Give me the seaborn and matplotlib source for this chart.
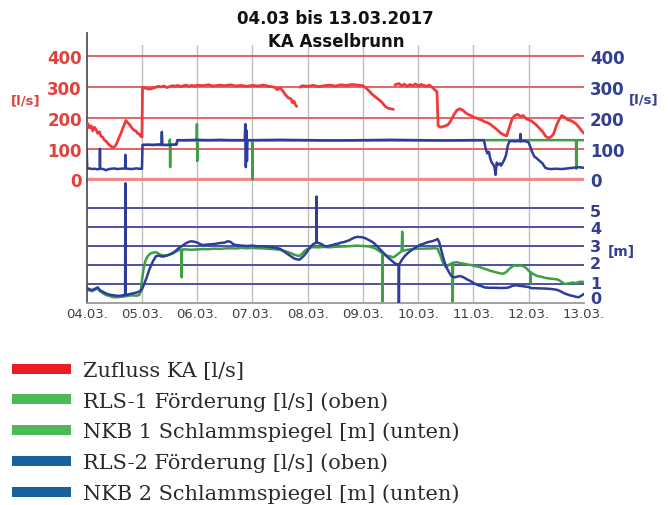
import matplotlib
matplotlib.use("Agg")
import matplotlib.pyplot as plt
import matplotlib.transforms as mtransforms
import numpy as np
import pandas as pd
import seaborn as sns
from matplotlib.lines import Line2D

nan = float("nan")

# ---------------- data ----------------
title_lines = ["04.03 bis 13.03.2017", "KA Asselbrunn"]
day_labels = ["04.03.", "05.03.", "06.03.", "07.03.", "08.03.",
              "09.03.", "10.03.", "11.03.", "12.03.", "13.03."]
flow_ticks = [0, 100, 200, 300, 400]
level_ticks = [0, 1, 2, 3, 4, 5]

# Zufluss KA [l/s] (top panel, red); time in days since 04.03. 00:00
zufluss_t = [0.00, 0.02, 0.05, 0.08, 0.11, 0.14, 0.17, 0.20, 0.23, 0.26,
             0.29, 0.32, 0.35, 0.38, 0.41, 0.44, 0.47, 0.50, 0.53, 0.56,
             0.59, 0.62, 0.65, 0.68, 0.71, 0.74, 0.77, 0.80, 0.83, 0.86,
             0.89, 0.92, 0.95, 0.98, 1.00, 1.01, 1.05, 1.10, 1.15, 1.20,
             1.25, 1.30, 1.35, 1.40, 1.45, 1.50, 1.55, 1.60, 1.65, 1.70,
             1.75, 1.80, 1.85, 1.90, 1.95, 2.00, 2.10, 2.20, 2.30, 2.40,
             2.50, 2.60, 2.70, 2.80, 2.90, 3.00, 3.10, 3.20, 3.30, 3.40,
             3.45, 3.50, 3.55, 3.60, 3.65, 3.70, 3.72, 3.75, 3.78, 3.80,
             3.83, 3.86, 3.90, 4.00, 4.10, 4.20, 4.30, 4.40, 4.50, 4.60,
             4.70, 4.80, 4.90, 5.00, 5.05, 5.10, 5.15, 5.20, 5.25, 5.30,
             5.35, 5.40, 5.45, 5.50, 5.55, 5.565, 5.58, 5.65, 5.70, 5.75,
             5.80, 5.85, 5.90, 5.95, 6.00, 6.05, 6.10, 6.15, 6.20, 6.25,
             6.30, 6.34, 6.36, 6.40, 6.45, 6.50, 6.55, 6.60, 6.65, 6.70,
             6.75, 6.80, 6.85, 6.90, 6.95, 7.00, 7.05, 7.10, 7.15, 7.20,
             7.25, 7.30, 7.35, 7.40, 7.45, 7.50, 7.55, 7.60, 7.65, 7.70,
             7.75, 7.80, 7.85, 7.90, 7.95, 8.00, 8.05, 8.10, 8.15, 8.20,
             8.25, 8.30, 8.35, 8.40, 8.45, 8.50, 8.55, 8.60, 8.65, 8.70,
             8.75, 8.80, 8.85, 8.90, 8.95, 9.00]
zufluss_v = [165, 182, 168, 175, 158, 170, 162, 150, 155, 140,
             138, 128, 125, 118, 112, 108, 104, 106, 112, 125,
             138, 150, 165, 178, 192, 185, 180, 172, 165, 160,
             158, 150, 148, 140, 138, 300, 298, 295, 294, 297,
             300, 303, 301, 304, 299, 302, 305, 303, 306, 302,
             305, 307, 303, 306, 304, 307, 305, 308, 304, 307,
             305, 308, 304, 306, 303, 306, 304, 307, 303, 300,
             292, 298, 288, 275, 265, 262, 250, 255, 242, 238,
             nan, 300, 305, 303, 306, 302, 305, 307, 304, 308,
             306, 309, 307, 305, 298, 290, 280, 272, 265, 258,
             250, 238, 232, 230, 228, nan, 308, 312, 305, 310,
             303, 309, 305, 311, 304, 309, 306, 303, 307, 300,
             292, 285, 175, 170, 172, 175, 180, 195, 212, 225,
             230, 226, 218, 212, 208, 203, 200, 196, 193, 188,
             185, 180, 173, 166, 158, 150, 145, 142, 170, 198,
             208, 212, 205, 208, 198, 194, 190, 183, 175, 165,
             156, 142, 135, 138, 148, 175, 195, 208, 202, 195,
             192, 188, 182, 172, 160, 150]

# RLS-1 Foerderung [l/s] (top panel, green)
rls1_t = [1.01, 1.20, 1.40, 1.50, 1.505, 1.51, 1.515, 1.63, 1.64, 1.80,
          1.99, 1.995, 2.00, 2.005, 2.20, 2.50, 2.99, 2.995, 3.00, 3.005,
          3.20, 3.60, 4.00, 4.50, 5.00, 5.50, 6.00, 6.50, 7.00, 7.20,
          7.40, 7.60, 7.80, 8.00, 8.20, 8.40, 8.60, 8.80, 8.855, 8.86,
          8.865, 8.90, 9.00]
rls1_v = [113, 113, 112, 113, 130, 40, 113, 113, 127, 127,
          127, 180, 60, 127, 127, 127, 127, 110, 0, 127,
          127, 127, 127, 127, 127, 127, 127, 127, 127, 128,
          128, 128, 128, 128, 128, 128, 128, 128, 128, 35,
          128, 128, 128]

# RLS-2 Foerderung [l/s] (top panel, blue)
rls2_t = [0.00, 0.01, 0.05, 0.10, 0.15, 0.20, 0.235, 0.24, 0.245, 0.30,
          0.35, 0.40, 0.45, 0.50, 0.55, 0.60, 0.695, 0.70, 0.705, 0.75,
          0.80, 0.85, 0.90, 0.95, 1.00, 1.01, 1.10, 1.20, 1.30, 1.35,
          1.36, 1.37, 1.45, 1.55, 1.62, 1.64, 1.80, 2.00, 2.20, 2.40,
          2.60, 2.80, 2.86, 2.87, 2.88, 2.89, 2.90, 2.91, 3.00, 3.50,
          4.00, 4.50, 5.00, 5.50, 6.00, 6.50, 7.00, 7.18, 7.20, 7.22,
          7.25, 7.28, 7.30, 7.33, 7.36, 7.38, 7.40, 7.42, 7.45, 7.48,
          7.50, 7.53, 7.56, 7.59, 7.62, 7.65, 7.70, 7.75, 7.80, 7.84,
          7.85, 7.86, 7.90, 7.95, 8.00, 8.03, 8.06, 8.10, 8.15, 8.20,
          8.25, 8.30, 8.35, 8.40, 8.50, 8.60, 8.70, 8.80, 8.90, 9.00]
rls2_v = [100, 35, 36, 34, 35, 33, 35, 100, 35, 34,
          30, 34, 35, 36, 34, 35, 36, 80, 36, 35,
          34, 35, 36, 35, 35, 112, 113, 112, 114, 113,
          155, 113, 112, 113, 114, 128, 128, 129, 128, 129,
          128, 128, 128, 180, 40, 160, 60, 128, 128, 129,
          128, 127, 128, 129, 128, 127, 128, 128, 120, 100,
          85, 90, 70, 55, 48, 40, 15, 55, 48, 52,
          45, 55, 65, 80, 110, 124, 125, 124, 125, 124,
          148, 124, 125, 124, 120, 105, 90, 75, 68, 60,
          52, 38, 35, 34, 35, 34, 36, 38, 40, 38]

# NKB 1 Schlammspiegel [m] (bottom panel, green)
nkb1_t = [0.00, 0.05, 0.10, 0.15, 0.20, 0.25, 0.30, 0.35, 0.40, 0.45,
          0.50, 0.55, 0.60, 0.65, 0.70, 0.75, 0.80, 0.85, 0.90, 0.95,
          0.98, 1.00, 1.03, 1.06, 1.10, 1.15, 1.20, 1.25, 1.30, 1.35,
          1.40, 1.45, 1.50, 1.55, 1.60, 1.65, 1.70, 1.715, 1.72, 1.725,
          1.75, 1.80, 1.90, 2.00, 2.10, 2.20, 2.30, 2.40, 2.50, 2.60,
          2.70, 2.80, 2.90, 3.00, 3.10, 3.20, 3.30, 3.40, 3.50, 3.60,
          3.70, 3.75, 3.80, 3.85, 3.90, 3.95, 4.00, 4.05, 4.10, 4.20,
          4.30, 4.40, 4.50, 4.60, 4.70, 4.80, 4.90, 5.00, 5.10, 5.20,
          5.25, 5.30, 5.35, 5.355, 5.36, 5.40, 5.45, 5.50, 5.55, 5.60,
          5.65, 5.70, 5.71, 5.72, 5.80, 5.90, 6.00, 6.10, 6.20, 6.30,
          6.35, 6.40, 6.45, 6.50, 6.55, 6.60, 6.62, 6.625, 6.63, 6.70,
          6.75, 6.80, 6.85, 6.90, 6.95, 7.00, 7.10, 7.20, 7.30, 7.40,
          7.50, 7.55, 7.60, 7.65, 7.70, 7.75, 7.80, 7.85, 7.90, 7.95,
          8.00, 8.03, 8.035, 8.04, 8.10, 8.15, 8.20, 8.30, 8.40, 8.50,
          8.55, 8.60, 8.65, 8.70, 8.75, 8.80, 8.85, 8.90, 8.95, 9.00]
nkb1_v = [0.70, 0.66, 0.62, 0.70, 0.75, 0.60, 0.50, 0.42, 0.38, 0.33,
          0.30, 0.30, 0.32, 0.33, 0.35, 0.38, 0.40, 0.40, 0.38, 0.42,
          0.60, 1.20, 1.80, 2.20, 2.45, 2.60, 2.65, 2.68, 2.60, 2.52,
          2.50, 2.50, 2.55, 2.60, 2.68, 2.75, 2.80, 2.80, 1.35, 2.80,
          2.82, 2.82, 2.80, 2.82, 2.84, 2.83, 2.86, 2.85, 2.87, 2.88,
          2.87, 2.90, 2.88, 2.90, 2.88, 2.87, 2.85, 2.83, 2.80, 2.72,
          2.62, 2.55, 2.50, 2.48, 2.60, 2.75, 2.85, 2.92, 2.94, 2.93,
          2.95, 2.93, 2.96, 2.97, 2.98, 3.00, 3.02, 3.00, 2.98, 2.90,
          2.82, 2.72, 2.62, 0.00, 2.60, 2.52, 2.48, 2.45, 2.40, 2.50,
          2.62, 2.72, 3.75, 2.75, 2.80, 2.84, 2.86, 2.86, 2.87, 2.88,
          2.86, 2.50, 2.10, 1.88, 2.00, 2.08, 2.10, 0.00, 2.12, 2.15,
          2.10, 2.08, 2.05, 2.02, 2.00, 1.96, 1.90, 1.80, 1.70, 1.62,
          1.55, 1.55, 1.65, 1.80, 1.92, 1.98, 1.96, 1.98, 1.94, 1.85,
          1.70, 1.62, 1.05, 1.60, 1.50, 1.42, 1.40, 1.32, 1.28, 1.25,
          1.20, 1.10, 1.00, 1.02, 1.05, 1.08, 1.04, 1.10, 1.12, 1.10]

# NKB 2 Schlammspiegel [m] (bottom panel, blue)
nkb2_t = [0.00, 0.05, 0.10, 0.15, 0.20, 0.25, 0.30, 0.35, 0.40, 0.45,
          0.50, 0.55, 0.60, 0.65, 0.695, 0.70, 0.705, 0.75, 0.80, 0.85,
          0.90, 0.95, 1.00, 1.04, 1.08, 1.12, 1.16, 1.20, 1.25, 1.30,
          1.35, 1.40, 1.45, 1.50, 1.55, 1.60, 1.65, 1.70, 1.75, 1.80,
          1.85, 1.90, 1.95, 2.00, 2.05, 2.10, 2.20, 2.30, 2.40, 2.50,
          2.55, 2.60, 2.65, 2.70, 2.80, 2.90, 3.00, 3.10, 3.20, 3.30,
          3.40, 3.50, 3.55, 3.60, 3.65, 3.70, 3.75, 3.80, 3.85, 3.90,
          3.95, 4.00, 4.05, 4.10, 4.155, 4.16, 4.165, 4.20, 4.25, 4.30,
          4.35, 4.40, 4.45, 4.50, 4.55, 4.60, 4.65, 4.70, 4.75, 4.80,
          4.85, 4.90, 4.95, 5.00, 5.05, 5.10, 5.15, 5.20, 5.25, 5.30,
          5.35, 5.40, 5.45, 5.50, 5.55, 5.60, 5.645, 5.65, 5.655, 5.70,
          5.75, 5.80, 5.85, 5.90, 5.95, 6.00, 6.05, 6.10, 6.15, 6.20,
          6.25, 6.30, 6.35, 6.38, 6.42, 6.46, 6.50, 6.55, 6.60, 6.65,
          6.70, 6.75, 6.80, 6.85, 6.90, 6.95, 7.00, 7.05, 7.10, 7.15,
          7.20, 7.30, 7.40, 7.50, 7.60, 7.65, 7.70, 7.75, 7.80, 7.90,
          8.00, 8.05, 8.10, 8.20, 8.30, 8.40, 8.50, 8.55, 8.60, 8.65,
          8.70, 8.75, 8.80, 8.85, 8.90, 8.95, 9.00]
nkb2_v = [0.80, 0.72, 0.68, 0.75, 0.82, 0.65, 0.58, 0.50, 0.45, 0.42,
          0.40, 0.38, 0.38, 0.40, 0.42, 6.30, 0.42, 0.45, 0.48, 0.52,
          0.55, 0.60, 0.72, 1.00, 1.30, 1.65, 1.95, 2.20, 2.45, 2.50,
          2.45, 2.45, 2.50, 2.55, 2.62, 2.72, 2.85, 2.95, 3.05, 3.15,
          3.22, 3.25, 3.22, 3.18, 3.10, 3.05, 3.08, 3.10, 3.15, 3.18,
          3.25, 3.22, 3.10, 3.05, 3.02, 3.00, 3.02, 2.98, 2.98, 2.95,
          2.92, 2.85, 2.75, 2.65, 2.55, 2.45, 2.35, 2.30, 2.28, 2.40,
          2.55, 2.75, 2.95, 3.10, 3.18, 5.60, 3.18, 3.15, 3.10, 3.00,
          2.98, 3.02, 3.05, 3.10, 3.12, 3.18, 3.20, 3.25, 3.30, 3.38,
          3.45, 3.48, 3.47, 3.45, 3.40, 3.32, 3.25, 3.15, 3.00, 2.85,
          2.70, 2.55, 2.40, 2.28, 2.15, 2.05, 2.02, 0.00, 2.03, 2.25,
          2.45, 2.60, 2.72, 2.82, 2.92, 3.00, 3.08, 3.12, 3.18, 3.22,
          3.25, 3.30, 3.37, 3.20, 2.75, 2.30, 1.95, 1.65, 1.42, 1.35,
          1.38, 1.42, 1.38, 1.30, 1.22, 1.15, 1.05, 0.98, 0.92, 0.88,
          0.82, 0.80, 0.80, 0.79, 0.80, 0.83, 0.90, 0.93, 0.92, 0.88,
          0.84, 0.78, 0.78, 0.77, 0.76, 0.74, 0.70, 0.65, 0.58, 0.50,
          0.45, 0.40, 0.37, 0.33, 0.30, 0.38, 0.48]

legend_labels = ["Zufluss KA [l/s]",
                 "RLS-1 Förderung [l/s] (oben)",
                 "NKB 1 Schlammspiegel [m] (unten)",
                 "RLS-2 Förderung [l/s] (oben)",
                 "NKB 2 Schlammspiegel [m] (unten)"]

# ---------------- style ----------------
RED_LINE = "#ee3a3a"
BLUE_LINE = "#2c3d9c"
GREEN_LINE = "#3f9f45"
RED_TXT = "#e2423c"
BLUE_TXT = "#323f92"
LEG_COLORS = ["#ed1c24", "#4cb857", "#4cb857", "#1463a0", "#1463a0"]

sns.set_style("white")
plt.rcParams["font.family"] = ["DejaVu Sans"]

W, H = 669, 506
fig = plt.figure(figsize=(W / 100, H / 100), dpi=100)

def fx(px):
    return px / W

def fy(py):
    return 1 - py / H

X0, X1 = 86.7, 584.0
Y_TOP, Y_MID, Y_BOT = 46.0, 182.0, 304.0
ax_top = fig.add_axes([fx(X0), fy(Y_MID), fx(X1) - fx(X0), (Y_MID - Y_TOP) / H])
ax_bot = fig.add_axes([fx(X0), fy(Y_BOT), fx(X1) - fx(X0), (Y_BOT - Y_MID) / H])


def frame(t, v):
    t = np.asarray(t, float)
    v = np.asarray(v, float)
    seg = np.cumsum(np.isnan(v))
    df = pd.DataFrame({"t": t, "v": v, "seg": seg})
    return df.dropna()


def draw(ax, t, v, color, lw, z=2):
    sns.lineplot(data=frame(t, v), x="t", y="v", units="seg", estimator=None,
                 sort=False, color=color, linewidth=lw, ax=ax, legend=False,
                 zorder=z)


# ---- top panel ----
ax_top.set_xlim(0, 9)
ax_top.set_ylim(-4.9, 437.4)
for d in range(1, 9):
    ax_top.axvline(d, color="#bdbdbd", lw=1.0, zorder=0.5)
for v in flow_ticks[1:]:
    ax_top.axhline(v, color="#e36666", lw=1.4, zorder=1)
ax_top.axhline(0, color="#ef8a8a", lw=2.4, zorder=1)

draw(ax_top, rls1_t, rls1_v, GREEN_LINE, 1.8, 2)
draw(ax_top, rls2_t, rls2_v, BLUE_LINE, 1.8, 3)
draw(ax_top, zufluss_t, zufluss_v, RED_LINE, 2.0, 4)

ax_top.set_xticks([])
ax_top.set_yticks(flow_ticks)
ax_top.set_yticklabels([str(v) for v in flow_ticks])
ax_top.tick_params(axis="y", length=0, pad=3.4, labelsize=12,
                   labelcolor=RED_TXT)
for lbl in ax_top.get_yticklabels():
    lbl.set_fontweight("bold")
ax_top.set_xlabel("")
ax_top.set_ylabel("")

ax_tr = ax_top.twinx()
ax_tr.set_ylim(ax_top.get_ylim())
ax_tr.set_yticks(flow_ticks)
ax_tr.set_yticklabels([str(v) for v in flow_ticks])
ax_tr.tick_params(axis="y", length=0, pad=4.3, labelsize=12,
                  labelcolor=BLUE_TXT)
for lbl in ax_tr.get_yticklabels():
    lbl.set_fontweight("bold")
for s in ax_tr.spines.values():
    s.set_visible(False)

# ---- bottom panel ----
ax_bot.set_xlim(0, 9)
ax_bot.set_ylim(0, 6.42)
for d in range(1, 9):
    ax_bot.axvline(d, color="#bdbdbd", lw=1.0, zorder=0.5)
for v in level_ticks[1:]:
    ax_bot.axhline(v, color="#5050a2", lw=1.4, zorder=1)

draw(ax_bot, nkb1_t, nkb1_v, GREEN_LINE, 1.8, 2)
draw(ax_bot, nkb2_t, nkb2_v, BLUE_LINE, 1.8, 3)

ax_bot.set_xticks(range(len(day_labels)))
ax_bot.set_xticklabels(day_labels)
ax_bot.tick_params(axis="x", length=0, pad=3, labelsize=9.5,
                   labelcolor="#404040")
ax_bot.yaxis.tick_right()
ax_bot.set_yticks(level_ticks)
ax_bot.set_yticklabels([str(v) for v in level_ticks])
ax_bot.tick_params(axis="y", length=0, pad=4.3, labelsize=11.5,
                   labelcolor=BLUE_TXT)
# the reference stacks these labels tightly: nudge them (pixels, up = +)
label_nudge_px = [6, 2, 3, 1, 0, -2]
for tk, dy in zip(ax_bot.yaxis.get_major_ticks(), label_nudge_px):
    tk.label2.set_fontweight("bold")
    tk.label2.set_transform(tk.label2.get_transform() +
                            mtransforms.ScaledTranslation(0, dy / 100.0,
                                                          fig.dpi_scale_trans))
ax_bot.set_xlabel("")
ax_bot.set_ylabel("")

# spines
for ax in (ax_top, ax_bot):
    ax.spines["top"].set_visible(False)
    ax.spines["right"].set_visible(False)
    ax.spines["left"].set_color("#555555")
    ax.spines["left"].set_linewidth(1.3)
    ax.set_facecolor("none")
ax_top.spines["bottom"].set_visible(False)
ax_top.spines["left"].set_bounds(-4.9, 476)
ax_bot.spines["bottom"].set_color("#9a9a9a")
ax_bot.spines["bottom"].set_linewidth(1.3)

# titles & unit labels
fig.text(fx(335), fy(19.5), title_lines[0], ha="center", va="center",
         fontsize=12, fontweight="bold", color="#111111")
fig.text(fx(336), fy(41.7), title_lines[1], ha="center", va="center",
         fontsize=12, fontweight="bold", color="#111111")
fig.text(fx(26), fy(101), "[l/s]", ha="center", va="center", fontsize=9.5,
         fontweight="bold", color=RED_TXT)
fig.text(fx(644), fy(100), "[l/s]", ha="center", va="center", fontsize=9.5,
         fontweight="bold", color=BLUE_TXT)
fig.text(fx(621), fy(252), "[m]", ha="center", va="center", fontsize=10,
         fontweight="bold", color=BLUE_TXT)

# legend
handles = [Line2D([], [], color=c, lw=7.2, solid_capstyle="butt")
           for c in LEG_COLORS]
leg = fig.legend(handles, legend_labels, loc="upper left",
                 bbox_to_anchor=(fx(12), fy(362)), frameon=False,
                 prop={"family": "DejaVu Serif", "size": 15},
                 handlelength=2.84, handletextpad=0.55, labelspacing=0.53,
                 borderpad=0, borderaxespad=0)
for t in leg.get_texts():
    t.set_color("#2a2a2a")

fig.savefig("out.png", dpi=100)
